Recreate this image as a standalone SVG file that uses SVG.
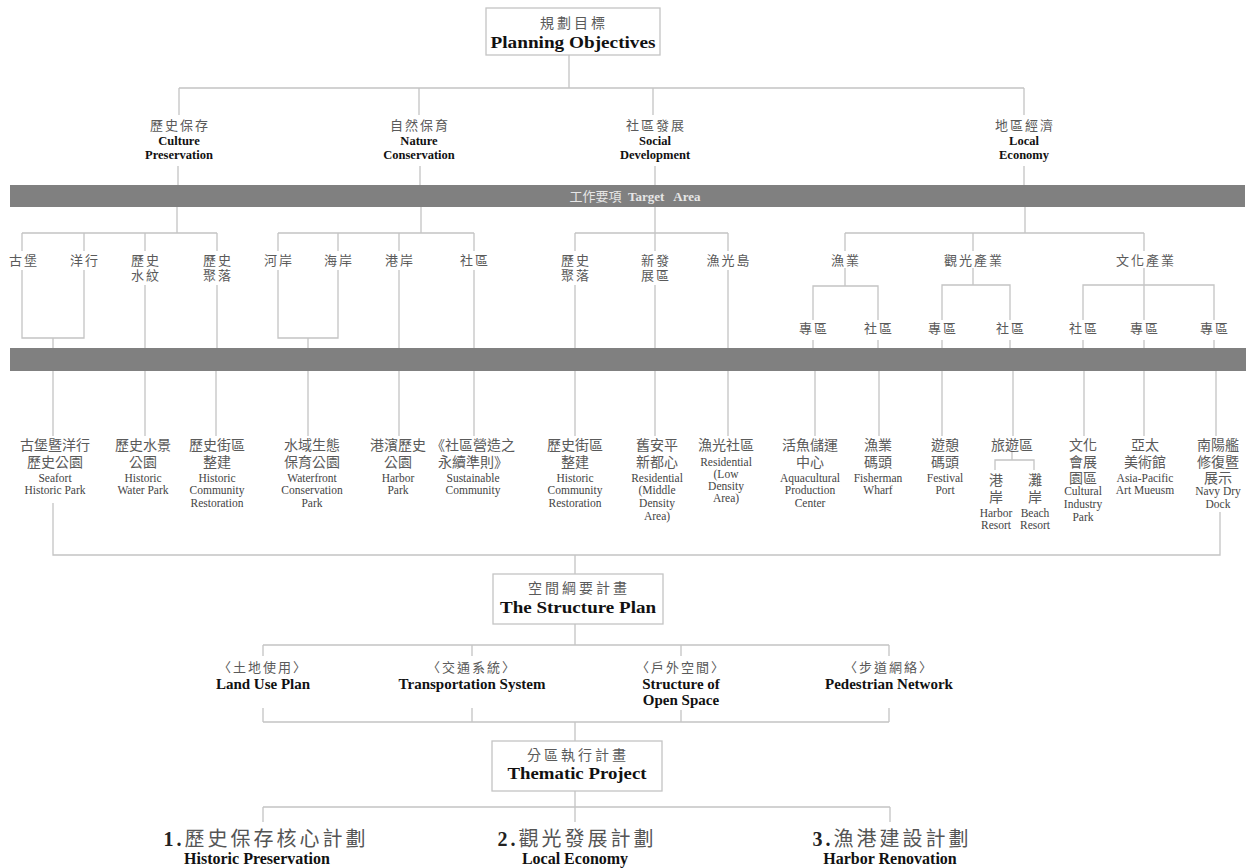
<svg xmlns="http://www.w3.org/2000/svg" width="1252" height="868" viewBox="0 0 1252 868">
<style>
.ln{stroke:#c4c4c4;stroke-width:1.3;fill:none}
.box{fill:#fff;stroke:#c4c4c4;stroke-width:1.3}
.bar{fill:#808080}
text{text-anchor:middle}
.c{font-family:"Liberation Serif","Noto Sans CJK TC",serif;fill:#5a5a5a;font-size:13px;letter-spacing:2px}
.c14{font-family:"Liberation Serif","Noto Sans CJK TC",serif;fill:#5a5a5a;font-size:14px}
.ct{font-family:"Liberation Serif","Noto Sans CJK TC",serif;fill:#5a5a5a;font-size:14px;letter-spacing:3px}
.e{font-family:"Liberation Serif",serif;fill:#444;font-size:11.5px}
.b{font-family:"Liberation Serif",serif;fill:#111;font-size:12.5px;font-weight:bold}
.bt{font-family:"Liberation Serif",serif;fill:#111;font-size:17px;font-weight:bold}
.bb{font-family:"Liberation Serif",serif;fill:#111;font-size:16px;font-weight:bold}
.bs{font-family:"Liberation Serif",serif;fill:#111;font-size:15px;font-weight:bold}
.big{font-family:"Liberation Serif","Noto Sans CJK TC",serif;fill:#555;font-size:20px;letter-spacing:3px}
.bar-t{font-family:"Liberation Serif","Noto Sans CJK TC",serif;fill:#e6e6e6;font-size:13px}
</style>

<g id="connectors">
<path class="ln" d="M569,55V88M179,88H1024M179,88V115M419,88V115M653,88V115M1024,88V115"/>
<path class="ln" d="M178,166V185M420,166V185M655,166V185M1024,166V185"/>
<path class="ln" d="M177,207V233M421,207V233M655,207V233M1025,207V233"/>
<path class="ln" d="M22,233H217M278,233H474M575,233H728M845,233H1144"/>
<path class="ln" d="M22,233V251M84,233V251M145,233V251M217,233V251M278,233V251M338,233V251M399,233V251M474,233V251M575,233V251M655,233V251M728,233V251M845,233V251M973,233V251M1144,233V251"/>
<path class="ln" d="M22,270V338H84V270M53,338V348"/>
<path class="ln" d="M145,285V348M217,285V348"/>
<path class="ln" d="M278,270V338H338V270M308,338V348"/>
<path class="ln" d="M399,270V348M474,270V348M575,285V348M655,285V348M728,270V348"/>
<path class="ln" d="M845,268V286M813,320V286H878V320M813,340V348M878,340V348"/>
<path class="ln" d="M973,268V285M942,320V285H1010V320M942,340V348M1010,340V348"/>
<path class="ln" d="M1144,268V320M1083,320V285H1214V320M1083,340V348M1144,340V348M1214,340V348"/>
<path class="ln" d="M53,371V436M145,371V436M216,371V436M308,371V436M399,371V436M474,371V436M575,371V436M655,371V436M728,371V436M815,371V436M879,371V436M942,371V436M1013,371V436M1084,371V436M1144,371V436M1216,371V436"/>
<path class="ln" d="M1012,452V460M995,470V460H1034V470"/>
<path class="ln" d="M53,503V555H1220V512M575,555V574"/>
<path class="ln" d="M575,624V645M263,645H889M263,645V656M472,645V656M681,645V656M889,645V656"/>
<path class="ln" d="M263,708V722M472,708V722M681,710V722M889,708V722M263,722H889M575,722V741"/>
<path class="ln" d="M575,791V807M263,807H890M263,807V822M575,807V822M890,807V822"/>
</g>

<g id="planning-objectives">
<rect class="box" x="486" y="8" width="174" height="47"/>
<text class="ct" x="574" y="28">規劃目標</text>
<text class="bt" x="573" y="48" textLength="165" lengthAdjust="spacingAndGlyphs">Planning Objectives</text>
</g>

<g id="culture-preservation">
<text class="c" x="180" y="130">歷史保存</text>
<text class="b" x="179" y="145">Culture</text>
<text class="b" x="179" y="159">Preservation</text>
</g>
<g id="nature-conservation">
<text class="c" x="420" y="130">自然保育</text>
<text class="b" x="419" y="145">Nature</text>
<text class="b" x="419" y="159">Conservation</text>
</g>
<g id="social-development">
<text class="c" x="656" y="130">社區發展</text>
<text class="b" x="655" y="145">Social</text>
<text class="b" x="655" y="159">Development</text>
</g>
<g id="local-economy">
<text class="c" x="1025" y="130">地區經濟</text>
<text class="b" x="1024" y="145">Local</text>
<text class="b" x="1024" y="159">Economy</text>
</g>

<g id="target-area">
<rect class="bar" x="10" y="185" width="1235" height="22"/>
<text class="bar-t" x="635" y="201" xml:space="preserve">工作要項  <tspan font-weight="bold">Target   Area</tspan></text>
</g>

<g id="items-top">
<text class="c" x="24" y="265">古堡</text>
<text class="c" x="85" y="265">洋行</text>
<text class="c" x="146" y="265">歷史</text><text class="c" x="146" y="280">水紋</text>
<text class="c" x="218" y="265">歷史</text><text class="c" x="218" y="280">聚落</text>
<text class="c" x="279" y="265">河岸</text>
<text class="c" x="339" y="265">海岸</text>
<text class="c" x="400" y="265">港岸</text>
<text class="c" x="475" y="265">社區</text>
<text class="c" x="576" y="265">歷史</text><text class="c" x="576" y="280">聚落</text>
<text class="c" x="656" y="265">新發</text><text class="c" x="656" y="280">展區</text>
<text class="c" x="729" y="265">漁光島</text>
<text class="c" x="846" y="265">漁業</text>
<text class="c" x="974" y="265">觀光產業</text>
<text class="c" x="1146" y="265">文化產業</text>
<text class="c" x="814" y="333">專區</text>
<text class="c" x="879" y="333">社區</text>
<text class="c" x="943" y="333">專區</text>
<text class="c" x="1011" y="333">社區</text>
<text class="c" x="1084" y="333">社區</text>
<text class="c" x="1145" y="333">專區</text>
<text class="c" x="1215" y="333">專區</text>
</g>

<g id="bar2">
<rect class="bar" x="10" y="348" width="1236" height="23"/>
</g>

<g id="seafort-park">
<text class="c14" x="55" y="450">古堡暨洋行</text><text class="c14" x="55" y="467">歷史公園</text>
<text class="e" x="55" y="482">Seafort</text><text class="e" x="55" y="494">Historic Park</text>
</g>
<g id="historic-water-park">
<text class="c14" x="143" y="450">歷史水景</text><text class="c14" x="143" y="467">公園</text>
<text class="e" x="143" y="482">Historic</text><text class="e" x="143" y="494">Water Park</text>
</g>
<g id="historic-community-1">
<text class="c14" x="217" y="450">歷史街區</text><text class="c14" x="217" y="467">整建</text>
<text class="e" x="217" y="482">Historic</text><text class="e" x="217" y="494">Community</text><text class="e" x="217" y="507">Restoration</text>
</g>
<g id="waterfront-park">
<text class="c14" x="312" y="450">水域生態</text><text class="c14" x="312" y="467">保育公園</text>
<text class="e" x="312" y="482">Waterfront</text><text class="e" x="312" y="494">Conservation</text><text class="e" x="312" y="507">Park</text>
</g>
<g id="harbor-park">
<text class="c14" x="398" y="450">港濱歷史</text><text class="c14" x="398" y="467">公園</text>
<text class="e" x="398" y="482">Harbor</text><text class="e" x="398" y="494">Park</text>
</g>
<g id="sustainable-community">
<text class="c14" x="473" y="450">《社區營造之</text><text class="c14" x="473" y="467">永續準則》</text>
<text class="e" x="473" y="482">Sustainable</text><text class="e" x="473" y="494">Community</text>
</g>
<g id="historic-community-2">
<text class="c14" x="575" y="450">歷史街區</text><text class="c14" x="575" y="467">整建</text>
<text class="e" x="575" y="482">Historic</text><text class="e" x="575" y="494">Community</text><text class="e" x="575" y="507">Restoration</text>
</g>
<g id="residential-middle">
<text class="c14" x="657" y="450">舊安平</text><text class="c14" x="657" y="467">新都心</text>
<text class="e" x="657" y="482">Residential</text><text class="e" x="657" y="494">(Middle</text><text class="e" x="657" y="507">Density</text><text class="e" x="657" y="520">Area)</text>
</g>
<g id="residential-low">
<text class="c14" x="726" y="450">漁光社區</text>
<text class="e" x="726" y="466">Residential</text><text class="e" x="726" y="478">(Low</text><text class="e" x="726" y="490">Density</text><text class="e" x="726" y="502">Area)</text>
</g>
<g id="aquacultural-center">
<text class="c14" x="810" y="450">活魚儲運</text><text class="c14" x="810" y="467">中心</text>
<text class="e" x="810" y="482">Aquacultural</text><text class="e" x="810" y="494">Production</text><text class="e" x="810" y="507">Center</text>
</g>
<g id="fisherman-wharf">
<text class="c14" x="878" y="450">漁業</text><text class="c14" x="878" y="467">碼頭</text>
<text class="e" x="878" y="482">Fisherman</text><text class="e" x="878" y="494">Wharf</text>
</g>
<g id="festival-port">
<text class="c14" x="945" y="450">遊憩</text><text class="c14" x="945" y="467">碼頭</text>
<text class="e" x="945" y="482">Festival</text><text class="e" x="945" y="494">Port</text>
</g>
<g id="resort-area">
<text class="c14" x="1012" y="450">旅遊區</text>
<text class="c14" x="996" y="485">港</text><text class="c14" x="996" y="502">岸</text>
<text class="e" x="996" y="517">Harbor</text><text class="e" x="996" y="529">Resort</text>
<text class="c14" x="1035" y="485">灘</text><text class="c14" x="1035" y="502">岸</text>
<text class="e" x="1035" y="517">Beach</text><text class="e" x="1035" y="529">Resort</text>
</g>
<g id="cultural-industry-park">
<text class="c14" x="1083" y="450">文化</text><text class="c14" x="1083" y="467">會展</text><text class="c14" x="1083" y="483">園區</text>
<text class="e" x="1083" y="495">Cultural</text><text class="e" x="1083" y="508">Industry</text><text class="e" x="1083" y="521">Park</text>
</g>
<g id="art-museum">
<text class="c14" x="1145" y="450">亞太</text><text class="c14" x="1145" y="467">美術館</text>
<text class="e" x="1145" y="482">Asia-Pacific</text><text class="e" x="1145" y="494">Art Mueusm</text>
</g>
<g id="navy-dry-dock">
<text class="c14" x="1218" y="450">南陽艦</text><text class="c14" x="1218" y="467">修復暨</text><text class="c14" x="1218" y="483">展示</text>
<text class="e" x="1218" y="495">Navy Dry</text><text class="e" x="1218" y="508">Dock</text>
</g>

<g id="structure-plan">
<rect class="box" x="493" y="574" width="170" height="50"/>
<text class="ct" x="579" y="593">空間綱要計畫</text>
<text class="bt" x="578" y="613" textLength="156" lengthAdjust="spacingAndGlyphs">The Structure Plan</text>
</g>
<g id="land-use">
<text class="c" x="263" y="672">〈土地使用〉</text>
<text class="bs" x="263" y="689">Land Use Plan</text>
</g>
<g id="transportation">
<text class="c" x="472" y="672">〈交通系統〉</text>
<text class="bs" x="472" y="689">Transportation System</text>
</g>
<g id="open-space">
<text class="c" x="681" y="672">〈戶外空間〉</text>
<text class="bs" x="681" y="689">Structure of</text>
<text class="bs" x="681" y="705">Open Space</text>
</g>
<g id="pedestrian">
<text class="c" x="889" y="672">〈步道網絡〉</text>
<text class="bs" x="889" y="689">Pedestrian Network</text>
</g>

<g id="thematic-project">
<rect class="box" x="492" y="741" width="170" height="50"/>
<text class="ct" x="578" y="760">分區執行計畫</text>
<text class="bt" x="577" y="779" textLength="139" lengthAdjust="spacingAndGlyphs">Thematic Project</text>
</g>
<g id="project-1">
<text class="big" x="266" y="846"><tspan font-weight="bold" fill="#222">1.</tspan>歷史保存核心計劃</text>
<text class="bb" x="257" y="864">Historic Preservation</text>
</g>
<g id="project-2">
<text class="big" x="577" y="846"><tspan font-weight="bold" fill="#222">2.</tspan>觀光發展計劃</text>
<text class="bb" x="575" y="864">Local Economy</text>
</g>
<g id="project-3">
<text class="big" x="892" y="846"><tspan font-weight="bold" fill="#222">3.</tspan>漁港建設計劃</text>
<text class="bb" x="890" y="864">Harbor Renovation</text>
</g>
</svg>
